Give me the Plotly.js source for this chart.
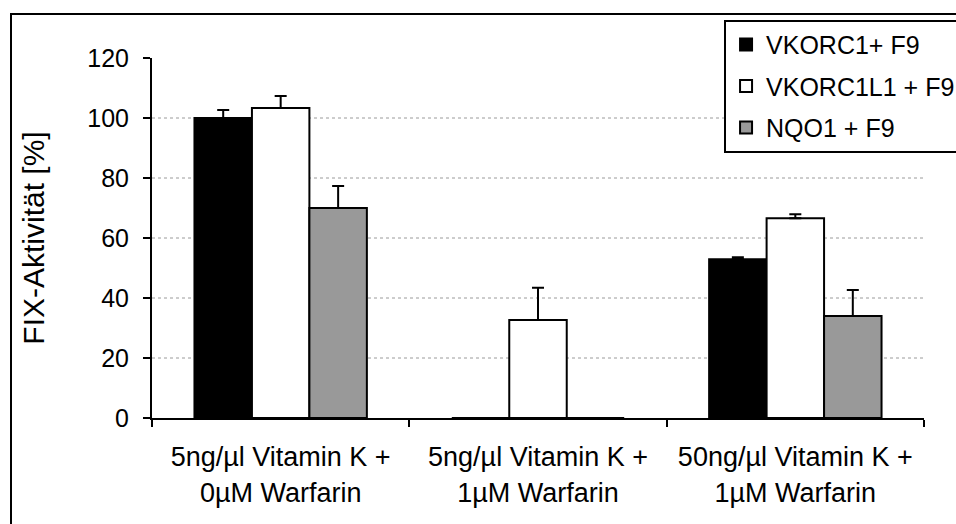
<!DOCTYPE html>
<html>
<head>
<meta charset="utf-8">
<script src="https://cdn.plot.ly/plotly-3.0.1.min.js"></script>
<style>
html,body{margin:0;padding:0;background:#fff;}
#wrap{position:relative;width:956px;height:524px;overflow:hidden;}
#chart{width:1010px;height:524px;}
#frame{position:absolute;left:10px;top:13px;width:1000px;height:600px;border:2px solid #000;pointer-events:none;box-sizing:border-box;}
</style>
</head>
<body>
<div id="wrap"><div id="chart"></div><div id="frame"></div></div>
<script>
const categories = ["5ng/µl Vitamin K +<br>0µM Warfarin", "5ng/µl Vitamin K +<br>1µM Warfarin", "50ng/µl Vitamin K +<br>1µM Warfarin"];
const seriesNames = ["VKORC1+ F9", "VKORC1L1 + F9", "NQO1 + F9"];
const vkorc1 = [100, 0, 52.9];
const vkorc1Err = [2.7, 0, 0.7];
const vkorc1l1 = [103.3, 32.7, 66.6];
const vkorc1l1Err = [4.0, 10.7, 1.3];
const nqo1 = [70, 0, 34];
const nqo1Err = [7.3, 0, 8.7];
const yTicks = [0, 20, 40, 60, 80, 100, 120];
const gridVals = [20, 40, 60, 80, 100];

const fills = ["#000000", "#ffffff", "#999999"];
const vals = [vkorc1, vkorc1l1, nqo1];
const errs = [vkorc1Err, vkorc1l1Err, nqo1Err];
const font = "Arial, 'Liberation Sans', sans-serif";

const traces = vals.map((v, i) => ({
  type: "bar",
  name: seriesNames[i],
  x: categories,
  y: v,
  legendgroup: "g" + i,
  marker: {color: fills[i], line: {color: "#000", width: 2}},
  error_y: {type: "data", array: errs[i], arrayminus: v.map(() => 0), symmetric: false,
            color: "#000", thickness: 2, width: 6}
}));

const shapes = gridVals.map(g => ({
  type: "line", xref: "paper", x0: 0, x1: 1, yref: "y", y0: g, y1: g,
  line: {color: "#9a9a9a", width: 1, dash: "dot"}, layer: "below"
}));

const layout = {
  width: 1010, height: 524,
  margin: {l: 152, r: 86, t: 58, b: 106},
  paper_bgcolor: "#fff", plot_bgcolor: "#fff",
  barmode: "group", bargap: 0.33, bargroupgap: 0,
  font: {family: font, size: 24, color: "#000"},
  showlegend: true,
  legend: {x: 0.741, y: 1.106, xanchor: "left", yanchor: "top",
           bgcolor: "#fff", bordercolor: "#000", borderwidth: 2,
           traceorder: "grouped", tracegroupgap: 6,
           font: {family: font, size: 25, color: "#000"}},
  xaxis: {type: "category", showline: true, linecolor: "#000", linewidth: 2,
          ticks: "outside", tickson: "boundaries", ticklen: 7, tickwidth: 2, tickcolor: "#000",
          showgrid: false, zeroline: false, automargin: false, ticklabelstandoff: 14,
          tickfont: {family: font, size: 27}},
  yaxis: {range: [0, 120], tickvals: yTicks, showline: true, linecolor: "#000", linewidth: 2,
          ticks: "outside", ticklen: 7, tickwidth: 2, tickcolor: "#000",
          showgrid: false, zeroline: false, automargin: false, ticklabelstandoff: 9,
          tickfont: {family: font, size: 25},
          title: {text: "FIX-Aktivität [%]", font: {family: font, size: 30}, standoff: 34}},
  shapes: shapes
};

Plotly.newPlot("chart", traces, layout, {displayModeBar: false, staticPlot: true});
</script>
</body>
</html>
